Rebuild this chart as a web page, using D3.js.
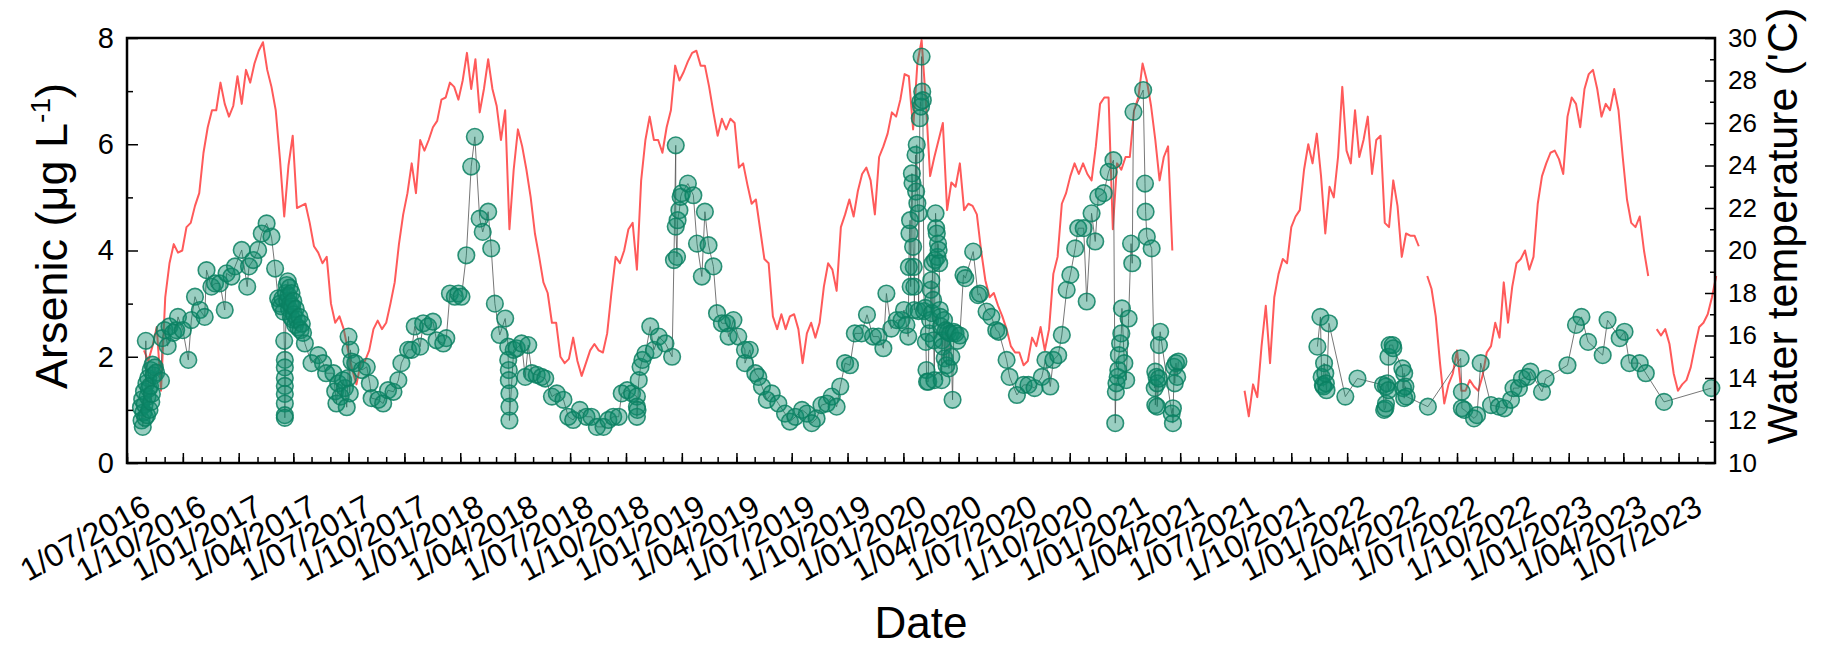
<!DOCTYPE html>
<html>
<head>
<meta charset="utf-8">
<script src="https://cdn.jsdelivr.net/npm/d3@7"></script>
<style>
  html, body { margin: 0; padding: 0; background: #fff; }
  svg { display: block; font-family: "Liberation Sans", Arial, sans-serif; }
</style>
</head>
<body>
<div id="chart"></div>
<script>
"use strict";

// Water temperature, read weekly from the logger trace starting 1/07/2016 (null = no data)
const temp_start = "2016-07-01";
const temp_step_days = 7;
const water_temp = [
    null, null, null, null, 15.3, 14.8, 15.5, 16.4, 13.4, 17.8,
    19.4, 20.3, 19.9, 20.0, 21.1, 21.3, 22.1, 22.7, 24.6, 25.8,
    26.6, 26.6, 27.9, 26.9, 26.3, 26.8, 28.2, 26.9, 28.5, 27.9,
    28.8, 29.4, 29.8, 28.5, 27.7, 26.6, 24.3, 21.6, 24.0, 25.4,
    22.0, 22.1, 22.2, 21.3, 20.2, 19.9, 19.4, 19.7, 17.5, 16.6,
    16.9, 16.3, 15.3, 14.4, 13.7, 14.7, 14.8, 15.3, 16.3, 16.7,
    16.3, 16.6, 17.5, 18.5, 20.3, 21.7, 22.7, 24.1, 22.7, 25.2,
    24.7, 25.2, 25.8, 26.1, 27.1, 27.2, 27.9, 27.7, 27.1, 28.0,
    29.3, 27.6, 29.0, 26.5, 27.6, 29.0, 27.6, 26.8, 25.2, 26.6,
    21.0, 23.8, 25.7, 24.9, 23.8, 22.5, 20.8, 19.7, 18.5, 18.0,
    16.6, 16.6, 15.0, 14.7, 14.9, 15.9, 14.8, 14.1, 14.7, 15.3,
    15.6, 15.3, 15.2, 16.1, 18.0, 19.7, 19.4, 20.0, 21.0, 21.3,
    19.1, 23.3, 25.2, 26.3, 25.2, 25.2, 24.6, 25.8, 26.6, 28.7,
    28.0, 28.4, 28.9, 29.3, 29.4, 28.7, 28.7, 27.7, 26.5, 25.4,
    26.2, 25.7, 26.2, 26.0, 23.9, 24.1, 23.1, 22.2, 22.4, 21.0,
    19.6, 19.4, 16.9, 16.3, 17.0, 16.3, 16.9, 17.0, 16.3, 14.7,
    16.1, 16.6, 15.9, 16.6, 18.3, 19.4, 19.1, 18.1, 21.1, 21.7,
    22.4, 21.6, 22.8, 23.6, 23.9, 23.3, 21.7, 24.4, 24.9, 25.5,
    26.5, 26.3, 27.1, 28.3, 28.2, 25.7, 28.8, 29.9, 27.0, 23.5,
    24.4, 25.2, 26.0, 21.9, 23.2, 23.0, 24.1, 21.9, 22.2, 22.1,
    21.7, 20.0, 18.6, 17.8, 18.0, 17.4, 16.9, 16.3, 15.5, 15.2,
    15.2, 14.6, 14.8, 15.9, 15.5, 16.4, 15.3, 16.3, 18.9, 19.7,
    22.2, 22.7, 23.5, 24.1, 23.6, 24.1, 23.6, 23.3, 24.9, 26.9,
    27.2, 27.2, 21.0, 24.1, 23.8, 24.4, 24.4, 26.6, 27.2, 28.8,
    28.0, 26.8, 25.2, 23.3, 24.4, 24.9, 20.0, null, null, null,
    null, null, null, null, null, null, null, null, null, null,
    null, null, null, 13.4, 12.2, 13.7, 13.1, 15.5, 17.4, 14.7,
    17.8, 18.9, 19.6, 19.4, 21.1, 21.6, 21.9, 23.8, 25.0, 24.1,
    25.5, 23.5, 20.8, 23.0, 22.5, 24.4, 27.7, 24.7, 24.1, 26.6,
    24.4, 25.2, 26.3, 23.6, 25.2, 25.4, 21.3, 21.1, 23.3, 22.1,
    19.7, 20.8, 20.7, 20.7, 20.2, null, 18.8, 18.2, 16.9, 14.7,
    12.8, 13.7, 14.2, 15.3, 13.4, 13.4, 13.9, 13.6, 13.4, 14.1,
    15.2, 15.5, 16.6, 15.9, 18.5, 16.6, 18.3, 19.4, 19.6, 20.0,
    19.1, 19.7, 22.2, 23.5, 24.1, 24.6, 24.7, 24.3, 23.6, 26.3,
    27.2, 26.9, 25.8, 27.6, 28.3, 28.5, 27.6, 26.3, 26.9, 26.6,
    27.6, 26.6, 24.4, 22.4, 21.3, 21.1, 21.6, 20.0, 18.8, null,
    16.3, 16.0, 16.3, 15.6, 14.2, 13.4, 13.7, 13.9, 14.5, 15.5,
    16.4, 16.6, 17.0, 17.8, 18.8
];

// Arsenic samples: [date, ug/L]
const arsenic_samples = [
    ["2016-07-24",1.05],["2016-07-25",0.80],["2016-07-26",1.20],["2016-07-27",0.68],["2016-07-28",0.95],
    ["2016-07-29",1.35],["2016-07-30",1.10],["2016-07-31",0.85],["2016-08-01",2.30],["2016-08-02",1.50],
    ["2016-08-03",0.90],["2016-08-04",1.25],["2016-08-05",1.60],["2016-08-06",1.40],["2016-08-07",1.00],
    ["2016-08-08",1.45],["2016-08-09",1.75],["2016-08-10",1.15],["2016-08-11",1.30],["2016-08-12",1.85],
    ["2016-08-14",1.65],["2016-08-16",1.80],["2016-08-18",1.70],["2016-08-26",1.55],["2016-08-28",2.35],
    ["2016-09-01",2.50],["2016-09-06",2.20],["2016-09-09",2.57],["2016-09-15",2.45],["2016-09-20",2.50],
    ["2016-09-23",2.75],["2016-10-01",2.50],["2016-10-10",1.94],["2016-10-15",2.69],["2016-10-21",3.13],
    ["2016-10-29",2.88],["2016-11-06",2.75],["2016-11-09",3.63],["2016-11-17",3.32],["2016-11-23",3.38],
    ["2016-12-01",3.38],["2016-12-09",2.88],["2016-12-12",3.57],["2016-12-20",3.51],["2016-12-26",3.70],
    ["2017-01-06",4.01],["2017-01-15",3.32],["2017-01-18",3.70],["2017-01-25",3.82],["2017-02-02",4.01],
    ["2017-02-08",4.32],["2017-02-16",4.51],["2017-02-24",4.26],["2017-03-02",3.66],["2017-03-07",3.10],
    ["2017-03-10",3.00],["2017-03-12",2.95],["2017-03-14",3.10],["2017-03-16",2.85],["2017-03-17",2.30],
    ["2017-03-18",1.94],["2017-03-18",1.80],["2017-03-18",1.60],["2017-03-18",1.45],["2017-03-18",1.30],
    ["2017-03-18",1.12],["2017-03-18",0.90],["2017-03-18",0.85],["2017-03-20",3.20],["2017-03-21",3.35],
    ["2017-03-22",3.05],["2017-03-23",3.42],["2017-03-24",3.15],["2017-03-25",2.90],["2017-03-26",3.30],
    ["2017-03-27",3.00],["2017-03-28",2.75],["2017-03-29",3.20],["2017-03-30",2.95],["2017-03-31",2.70],
    ["2017-04-01",3.05],["2017-04-02",2.80],["2017-04-04",2.60],["2017-04-05",2.90],["2017-04-07",2.70],
    ["2017-04-09",2.55],["2017-04-11",2.75],["2017-04-13",2.50],["2017-04-15",2.62],["2017-04-17",2.45],
    ["2017-04-20",2.25],["2017-05-01",1.88],["2017-05-12",2.03],["2017-05-20",1.88],["2017-05-25",1.69],
    ["2017-06-06",1.69],["2017-06-09",1.35],["2017-06-11",1.12],["2017-06-14",1.50],["2017-06-18",1.25],
    ["2017-06-22",1.56],["2017-06-25",1.41],["2017-06-28",1.05],["2017-06-30",1.60],["2017-07-01",2.38],
    ["2017-07-03",1.31],["2017-07-04",2.13],["2017-07-06",1.91],["2017-07-12",1.88],["2017-07-23",1.75],
    ["2017-07-31",1.81],["2017-08-05",1.50],["2017-08-08",1.22],["2017-08-19",1.19],["2017-08-27",1.12],
    ["2017-09-04",1.37],["2017-09-13",1.34],["2017-09-21",1.56],["2017-09-26",1.88],["2017-10-07",2.13],
    ["2017-10-13",2.13],["2017-10-18",2.57],["2017-10-27",2.19],["2017-11-01",2.63],["2017-11-09",2.57],
    ["2017-11-17",2.66],["2017-11-23",2.31],["2017-12-04",2.25],["2017-12-09",2.35],["2017-12-15",3.19],
    ["2017-12-23",3.13],["2017-12-29",3.19],["2018-01-03",3.13],["2018-01-11",3.91],["2018-01-19",5.58],
    ["2018-01-25",6.14],["2018-02-02",4.60],["2018-02-07",4.35],["2018-02-16",4.73],["2018-02-21",4.04],
    ["2018-02-27",3.00],["2018-03-07",2.41],["2018-03-16",2.72],["2018-03-21",2.19],["2018-03-21",1.94],
    ["2018-03-22",1.75],["2018-03-22",1.56],["2018-03-23",1.31],["2018-03-23",1.06],["2018-03-23",0.80],
    ["2018-03-30",2.13],["2018-04-04",2.16],["2018-04-12",2.25],["2018-04-18",1.62],["2018-04-23",2.22],
    ["2018-04-29",1.69],["2018-05-07",1.66],["2018-05-15",1.62],["2018-05-21",1.59],["2018-06-01",1.25],
    ["2018-06-09",1.31],["2018-06-20",1.19],["2018-06-28",0.87],["2018-07-06",0.81],["2018-07-17",1.00],
    ["2018-07-28",0.87],["2018-08-05",0.87],["2018-08-14",0.68],["2018-08-25",0.68],["2018-09-02",0.81],
    ["2018-09-10",0.87],["2018-09-19",0.87],["2018-09-24",1.31],["2018-10-03",1.37],["2018-10-11",1.31],
    ["2018-10-19",1.25],["2018-10-19",1.06],["2018-10-19",0.87],["2018-10-20",1.00],["2018-10-22",1.56],
    ["2018-10-25",1.81],["2018-10-28",1.94],["2018-11-02",2.06],["2018-11-10",2.57],["2018-11-16",2.13],
    ["2018-11-24",2.38],["2018-12-05",2.25],["2018-12-16",2.00],["2018-12-19",3.82],["2018-12-22",5.98],
    ["2018-12-22",4.45],["2018-12-24",3.88],["2018-12-25",4.57],["2018-12-28",4.76],["2018-12-30",5.01],
    ["2019-01-01",5.08],["2019-01-11",5.26],["2019-01-20",5.04],["2019-01-26",4.13],["2019-02-03",3.51],
    ["2019-02-08",4.73],["2019-02-14",4.10],["2019-02-22",3.70],["2019-02-28",2.82],["2019-03-08",2.63],
    ["2019-03-16",2.63],["2019-03-19",2.38],["2019-03-27",2.69],["2019-04-04",2.38],["2019-04-15",2.13],
    ["2019-04-15",1.88],["2019-04-23",2.13],["2019-05-02",1.69],["2019-05-07",1.62],["2019-05-13",1.44],
    ["2019-05-21",1.19],["2019-05-29",1.31],["2019-06-09",1.12],["2019-06-20",0.93],["2019-06-28",0.78],
    ["2019-07-07",0.87],["2019-07-18",1.00],["2019-07-26",0.93],["2019-08-03",0.75],["2019-08-11",0.84],
    ["2019-08-19",1.09],["2019-08-28",1.12],["2019-09-05",1.25],["2019-09-13",1.06],["2019-09-19",1.44],
    ["2019-09-27",1.88],["2019-10-05",1.84],["2019-10-13",2.44],["2019-10-24",2.44],["2019-11-02",2.79],
    ["2019-11-12",2.38],["2019-11-21",2.38],["2019-11-29",2.16],["2019-12-04",3.19],["2019-12-12",2.53],
    ["2019-12-21",2.69],["2019-12-29",2.69],["2020-01-02",2.88],["2020-01-06",2.60],["2020-01-09",2.38],
    ["2020-01-10",3.69],["2020-01-11",4.32],["2020-01-12",4.57],["2020-01-13",3.32],["2020-01-15",5.45],
    ["2020-01-16",5.27],["2020-01-17",4.07],["2020-01-18",3.69],["2020-01-19",3.32],["2020-01-19",2.88],
    ["2020-01-21",5.80],["2020-01-22",5.11],["2020-01-23",5.99],["2020-01-24",4.89],["2020-01-26",4.70],
    ["2020-01-26",2.86],["2020-01-28",6.49],["2020-01-29",6.80],["2020-01-30",6.71],["2020-01-31",7.65],
    ["2020-02-01",6.99],["2020-02-02",6.83],["2020-02-04",2.86],["2020-02-06",2.92],["2020-02-07",2.28],
    ["2020-02-08",1.75],["2020-02-09",1.53],["2020-02-11",1.53],["2020-02-12",2.44],["2020-02-14",2.69],
    ["2020-02-15",3.26],["2020-02-16",3.44],["2020-02-17",2.82],["2020-02-18",3.76],["2020-02-19",3.07],
    ["2020-02-20",2.31],["2020-02-21",1.56],["2020-02-22",3.82],["2020-02-23",4.70],["2020-02-24",4.42],
    ["2020-02-25",4.32],["2020-02-26",3.88],["2020-02-27",4.13],["2020-02-28",4.01],["2020-02-29",3.76],
    ["2020-03-01",2.88],["2020-03-02",2.75],["2020-03-03",2.57],["2020-03-04",1.56],["2020-03-05",2.31],
    ["2020-03-06",2.19],["2020-03-08",2.69],["2020-03-09",1.97],["2020-03-11",2.50],["2020-03-12",1.84],
    ["2020-03-14",2.47],["2020-03-16",1.78],["2020-03-18",2.44],["2020-03-20",2.00],["2020-03-22",1.19],
    ["2020-03-24",2.47],["2020-03-27",2.44],["2020-03-30",2.30],["2020-04-03",2.40],["2020-04-09",3.54],
    ["2020-04-12",3.48],["2020-04-25",3.98],["2020-05-03",3.16],["2020-05-06",3.19],["2020-05-17",2.85],
    ["2020-05-25",2.75],["2020-06-02",2.50],["2020-06-06",2.47],["2020-06-19",1.94],["2020-06-24",1.62],
    ["2020-07-06",1.28],["2020-07-17",1.47],["2020-07-25",1.47],["2020-08-04",1.41],["2020-08-16",1.62],
    ["2020-08-22",1.94],["2020-08-30",1.44],["2020-09-04",1.94],["2020-09-12",2.03],["2020-09-18",2.41],
    ["2020-09-26",3.26],["2020-10-02",3.54],["2020-10-10",4.04],["2020-10-15",4.42],["2020-10-24",4.42],
    ["2020-10-29",3.04],["2020-11-06",4.70],["2020-11-12",4.17],["2020-11-17",5.01],["2020-11-26",5.08],
    ["2020-12-04",5.48],["2020-12-12",5.70],["2020-12-15",0.75],["2020-12-16",1.34],["2020-12-17",1.50],
    ["2020-12-19",1.62],["2020-12-20",1.75],["2020-12-21",2.03],["2020-12-23",2.25],["2020-12-25",2.44],
    ["2020-12-26",2.91],["2020-12-30",1.88],["2021-01-02",1.56],["2021-01-06",2.72],["2021-01-10",4.13],
    ["2021-01-12",3.76],["2021-01-14",6.61],["2021-01-30",7.02],["2021-02-02",5.26],["2021-02-03",4.73],
    ["2021-02-05",4.26],["2021-02-13",4.04],["2021-02-18",1.41],["2021-02-19",1.72],["2021-02-19",1.09],
    ["2021-02-21",1.62],["2021-02-22",1.50],["2021-02-22",1.06],["2021-02-25",1.59],["2021-02-25",2.22],
    ["2021-02-27",2.47],["2021-03-18",0.93],["2021-03-20",1.03],["2021-03-20",0.75],["2021-03-22",1.81],
    ["2021-03-23",1.50],["2021-03-25",1.88],["2021-03-27",1.62],["2021-03-29",1.91],
    ["2021-11-13",2.19],["2021-11-18",2.75],["2021-11-20",1.62],["2021-11-22",1.47],["2021-11-23",1.44],
    ["2021-11-24",1.88],["2021-11-26",1.69],["2021-11-27",1.50],["2021-11-28",1.37],["2021-12-02",2.63],
    ["2021-12-29",1.25],["2022-01-18",1.59],["2022-03-01",1.47],["2022-03-03",1.00],["2022-03-05",1.03],
    ["2022-03-06",1.12],["2022-03-06",1.44],["2022-03-08",1.50],["2022-03-10",1.37],["2022-03-10",2.00],
    ["2022-03-12",2.22],["2022-03-17",2.22],["2022-03-18",2.16],["2022-04-02",1.78],["2022-04-03",1.41],
    ["2022-04-05",1.69],["2022-04-05",1.22],["2022-04-07",1.44],["2022-04-09",1.25],["2022-05-14",1.06],
    ["2022-07-07",1.97],["2022-07-09",1.34],["2022-07-09",1.03],["2022-07-13",1.00],["2022-07-29",0.84],
    ["2022-08-03",0.90],["2022-08-09",1.88],["2022-08-26",1.09],["2022-09-08",1.06],["2022-09-17",1.03],
    ["2022-09-28",1.19],["2022-10-02",1.41],["2022-10-11",1.41],["2022-10-16",1.59],["2022-10-25",1.62],
    ["2022-10-30",1.72],["2022-11-18",1.34],["2022-11-24",1.59],["2022-12-30",1.84],["2023-01-13",2.60],
    ["2023-01-22",2.75],["2023-02-02",2.28],["2023-02-26",2.03],["2023-03-06",2.69],["2023-03-26",2.35],
    ["2023-04-03",2.47],["2023-04-11",1.88],["2023-04-28",1.88],["2023-05-08",1.69],["2023-06-07",1.15],
    ["2023-08-24",1.41]
];

const x_domain = ["2016-07-01", "2023-08-30"];
const arsenic_ticks = [0, 2, 4, 6, 8];
const arsenic_minor_ticks = [1, 3, 5, 7];
const temp_ticks = [10, 12, 14, 16, 18, 20, 22, 24, 26, 28, 30];
const temp_minor_ticks = [11, 13, 15, 17, 19, 21, 23, 25, 27, 29];

const width = 1821;
const height = 649;
const margins = {top: 38, right: 106, bottom: 186, left: 127};
const plot_width = width - margins.left - margins.right;
const plot_height = height - margins.top - margins.bottom;

const parse_date = d3.timeParse("%Y-%m-%d");
const format_date = d3.timeFormat("%-d/%m/%Y");

const start = parse_date(temp_start);
const temp_data = water_temp.map(function (v, i) {
    return {date: d3.timeDay.offset(start, i * temp_step_days), value: v};
});
const arsenic_data = arsenic_samples.map(function (d) {
    return {date: parse_date(d[0]), value: d[1]};
}).sort(function (a, b) { return a.date - b.date; });

// break the connecting line where the sampling stopped for months
arsenic_data.forEach(function (d, i) {
    d.gap_before = i > 0 && (d.date - arsenic_data[i - 1].date) > 150 * 864e5;
});

const x_scale = d3.scaleTime()
    .domain(x_domain.map(parse_date))
    .range([margins.left, margins.left + plot_width]);
const y_arsenic = d3.scaleLinear()
    .domain([0, 8])
    .range([margins.top + plot_height, margins.top]);
const y_temp = d3.scaleLinear()
    .domain([10, 30])
    .range([margins.top + plot_height, margins.top]);

const svg = d3.select("#chart").append("svg")
    .attr("width", width)
    .attr("height", height);

svg.append("rect")
    .attr("width", width)
    .attr("height", height)
    .attr("fill", "white");

// Temperature trace (drawn first, symbols sit on top)
const temp_line = d3.line()
    .defined(function (d) { return d.value !== null; })
    .x(function (d) { return x_scale(d.date); })
    .y(function (d) { return y_temp(d.value); });

svg.append("path")
    .datum(temp_data)
    .attr("fill", "none")
    .attr("stroke", "#ff5a5a")
    .attr("stroke-width", 2)
    .attr("stroke-linejoin", "round")
    .attr("d", temp_line);

// thin connecting line between arsenic samples
let segments = [];
arsenic_data.forEach(function (d) {
    if (d.gap_before || segments.length === 0) segments.push([]);
    segments[segments.length - 1].push(d);
});

const arsenic_line = d3.line()
    .x(function (d) { return x_scale(d.date); })
    .y(function (d) { return y_arsenic(d.value); });

svg.append("g")
    .selectAll("path")
    .data(segments)
    .join("path")
    .attr("fill", "none")
    .attr("stroke", "#555")
    .attr("stroke-opacity", 0.8)
    .attr("stroke-width", 1)
    .attr("d", arsenic_line);

svg.append("g")
    .selectAll("circle")
    .data(arsenic_data)
    .join("circle")
    .attr("cx", function (d) { return x_scale(d.date); })
    .attr("cy", function (d) { return y_arsenic(d.value); })
    .attr("r", 8.3)
    .attr("fill", "#0e8a6b")
    .attr("fill-opacity", 0.42)
    .attr("stroke", "#0b8062")
    .attr("stroke-opacity", 0.85)
    .attr("stroke-width", 1.6);

// Axes: ticks point into the plot, like the Origin frame
const bottom = margins.top + plot_height;

const x_minor = svg.append("g")
    .attr("transform", "translate(0," + bottom + ")")
    .call(d3.axisBottom(x_scale)
        .tickValues(d3.timeMonth.range(parse_date("2016-07-01"), parse_date("2023-08-30")))
        .tickSize(-6)
        .tickFormat(""));

const quarters = d3.timeMonth.every(3).range(parse_date("2016-07-01"), parse_date("2023-07-02"));
const x_major = svg.append("g")
    .attr("transform", "translate(0," + bottom + ")")
    .call(d3.axisBottom(x_scale)
        .tickValues(quarters)
        .tickSize(-10)
        .tickFormat(format_date));

x_major.selectAll("text")
    .attr("x", 0)
    .attr("y", 0)
    .attr("dy", 0)
    .attr("text-anchor", "end")
    .attr("transform", "translate(25,50) rotate(-29)")
    .style("font-size", "32px");

const y_minor = svg.append("g")
    .attr("transform", "translate(" + margins.left + ",0)")
    .call(d3.axisLeft(y_arsenic).tickValues(arsenic_minor_ticks).tickSize(-6).tickFormat(""));

const y_major = svg.append("g")
    .attr("transform", "translate(" + margins.left + ",0)")
    .call(d3.axisLeft(y_arsenic).tickValues(arsenic_ticks).tickSize(-11).tickPadding(13).tickFormat(d3.format("d")));
y_major.selectAll("text").style("font-size", "29px");

const right_x = margins.left + plot_width;
const t_minor = svg.append("g")
    .attr("transform", "translate(" + right_x + ",0)")
    .call(d3.axisRight(y_temp).tickValues(temp_minor_ticks).tickSize(-5).tickFormat(""));

const t_major = svg.append("g")
    .attr("transform", "translate(" + right_x + ",0)")
    .call(d3.axisRight(y_temp).tickValues(temp_ticks).tickSize(-10).tickPadding(13).tickFormat(d3.format("d")));
t_major.selectAll("text").style("font-size", "26px");

[x_minor, x_major, y_minor, y_major, t_minor, t_major].forEach(function (g) {
    g.attr("font-family", null).attr("font-size", null);
    g.select(".domain").remove();
    g.selectAll("line").attr("stroke", "#000").attr("stroke-width", 1.5);
    g.selectAll("text").attr("fill", "#000");
});

// plot frame
svg.append("rect")
    .attr("x", margins.left)
    .attr("y", margins.top)
    .attr("width", plot_width)
    .attr("height", plot_height)
    .attr("fill", "none")
    .attr("stroke", "#000")
    .attr("stroke-width", 2.5);

// Axis titles
svg.append("text")
    .attr("x", margins.left + plot_width / 2)
    .attr("y", 638)
    .attr("text-anchor", "middle")
    .style("font-size", "44px")
    .text("Date");

const left_title = svg.append("text")
    .attr("transform", "translate(67,236) rotate(-90)")
    .attr("text-anchor", "middle")
    .style("font-size", "45px");
left_title.append("tspan").text("Arsenic (\u03bcg L");
left_title.append("tspan").attr("dy", -17).style("font-size", "28px").text("-1");
left_title.append("tspan").attr("dy", 17).text(")");

svg.append("text")
    .attr("transform", "translate(1797,226) rotate(-90)")
    .attr("text-anchor", "middle")
    .style("font-size", "43px")
    .text("Water temperature ('C)");
</script>
</body>
</html>
